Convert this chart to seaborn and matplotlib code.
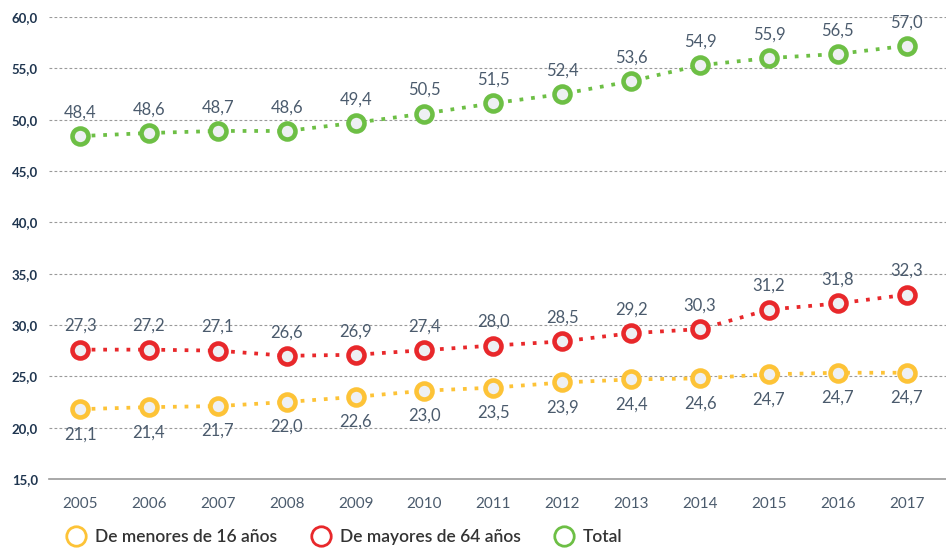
import matplotlib
matplotlib.use("Agg")
import matplotlib.pyplot as plt
from matplotlib.lines import Line2D
import pandas as pd
import seaborn as sns

years = list(range(2005, 2018))

# printed values (labels)
menores_labels = ["21,1", "21,4", "21,7", "22,0", "22,6", "23,0", "23,5",
                  "23,9", "24,4", "24,6", "24,7", "24,7", "24,7"]
mayores_labels = ["27,3", "27,2", "27,1", "26,6", "26,9", "27,4", "28,0",
                  "28,5", "29,2", "30,3", "31,2", "31,8", "32,3"]
total_labels = ["48,4", "48,6", "48,7", "48,6", "49,4", "50,5", "51,5",
                "52,4", "53,6", "54,9", "55,9", "56,5", "57,0"]

# marker heights as drawn in the chart
menores = [21.8, 22.0, 22.1, 22.5, 23.0, 23.6, 23.9, 24.4, 24.7, 24.8, 25.2, 25.35, 25.35]
mayores = [27.6, 27.6, 27.5, 27.0, 27.1, 27.55, 28.0, 28.4, 29.2, 29.6, 31.5, 32.1, 32.95]
total = [48.4, 48.7, 48.9, 48.9, 49.7, 50.6, 51.6, 52.5, 53.75, 55.3, 56.0, 56.4, 57.2]

series_names = ["De menores de 16 años", "De mayores de 64 años", "Total"]
colors = ["#fdc337", "#e8282b", "#6dbf45"]
yticks = [15, 20, 25, 30, 35, 40, 45, 50, 55, 60]

df = pd.DataFrame({
    "year": years * 3,
    "value": menores + mayores + total,
    "serie": [s for s in series_names for _ in years],
})

sns.set_style("white")
plt.rcParams["font.family"] = ["Lato", "DejaVu Sans"]

fig = plt.figure(figsize=(9.46, 5.49), dpi=100)
ax = fig.add_axes([49 / 946, 1 - 479 / 549, 897 / 946, 462 / 549])

for name, color in zip(series_names, colors):
    sub = df[df["serie"] == name]
    sns.lineplot(
        data=sub, x="year", y="value", ax=ax, color=color,
        linewidth=2.7, linestyle=(0, (1, 2.1)), dash_capstyle="butt",
        marker="o", markersize=11.5, markeredgewidth=3.3,
        markerfacecolor="#eef0f3", markeredgecolor=color, zorder=3,
    )

text_color = "#4b5b6d"
for vals, labels, off in [(total, total_labels, 17), (mayores, mayores_labels, 17),
                          (menores, menores_labels, -18)]:
    for x, y, t in zip(years, vals, labels):
        ax.annotate(t, (x, y), xytext=(0, off), textcoords="offset points",
                    ha="center", va="center", fontsize=12, color=text_color)

ax.set_xlim(2004.55, 2017.57)
ax.set_ylim(15, 60)
ax.set_yticks(yticks)
ax.set_yticklabels([f"{v:.1f}".replace(".", ",") for v in yticks],
                   fontsize=9.5, fontweight="bold", color="#1f354f")
ax.set_xticks(years)
ax.set_xticklabels([str(y) for y in years], fontsize=11, color=text_color)
ax.tick_params(axis="y", length=0, pad=8)
ax.tick_params(axis="x", length=0, pad=13)
ax.set_xlabel("")
ax.set_ylabel("")

for v in yticks[1:]:
    ax.axhline(v, color="#9a9a9a", linewidth=0.8, linestyle=(0, (2.5, 2)), zorder=1)
for s in ["top", "right", "left"]:
    ax.spines[s].set_visible(False)
ax.spines["bottom"].set_color("#9a9a9a")
ax.spines["bottom"].set_linewidth(1.2)

handles = [Line2D([], [], linestyle="none", marker="o", markersize=14,
                  markerfacecolor="white", markeredgecolor=c, markeredgewidth=2)
           for c in colors]
leg = fig.legend(handles, series_names, loc="center left",
                 bbox_to_anchor=(50 / 946, 1 - 537 / 549), ncol=3, frameon=False,
                 handlelength=1.2, handletextpad=0.5, columnspacing=1.9,
                 prop={"size": 12.5, "weight": "semibold"})
for t in leg.get_texts():
    t.set_color("#333333")

fig.savefig("out.png", dpi=100)
